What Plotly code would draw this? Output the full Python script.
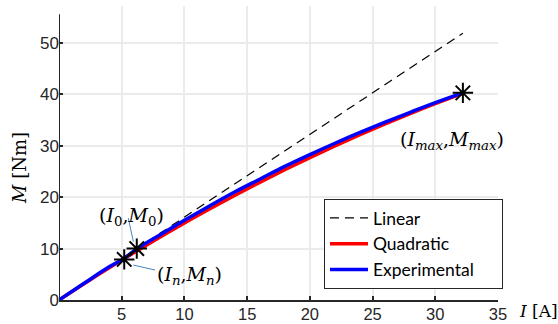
import plotly.graph_objects as go

# ---- data ----
I_exp = [0, 2, 4, 5.2, 6.2, 8, 10, 12, 14, 16, 18, 20, 22, 24, 26, 28, 30, 32.2]
M_exp = [0, 3.25, 6.45, 8.1, 9.95, 12.6, 15.5, 18.3, 21.0, 23.5, 26.0, 28.3, 30.5, 32.6, 34.6, 36.5, 38.4, 40.3]
I_quad = [0, 2, 4, 5.2, 6.2, 8, 10, 12, 14, 16, 18, 20, 22, 24, 26, 28, 30, 32.2]
M_quad = [0, 3.18, 6.26, 8.07, 9.55, 12.16, 14.98, 17.70, 20.34, 22.89, 25.34, 27.71, 29.99, 32.17, 34.27, 36.28, 38.2, 40.2]
I_lin = [0, 32.2]
M_lin = [0, 51.9]
I_pts = [5.2, 6.2, 32.2]
M_pts = [7.9, 10.0, 40.3]
x_ticks = [5, 10, 15, 20, 25, 30, 35]
y_ticks = [0, 10, 20, 30, 40, 50]
series_names = ["Linear", "Quadratic", "Experimental"]

AX = "#262626"
GRID = "#ebebeb"
MATH = "DejaVu Serif"
PAD = "\u00a0" * 5  # right padding inside the legend box

fig = go.Figure()
fig.add_trace(go.Scatter(x=I_lin, y=M_lin, mode="lines", name=series_names[0],
                         line=dict(color="black", width=1.2, dash="9px,6px")))
fig.add_trace(go.Scatter(x=I_quad, y=M_quad, mode="lines", name=series_names[1],
                         line=dict(color="#ff0000", width=3.5, shape="spline")))
fig.add_trace(go.Scatter(x=I_exp, y=M_exp, mode="lines", name=series_names[2] + PAD,
                         line=dict(color="#0000ff", width=3.5, shape="spline")))
fig.add_trace(go.Scatter(x=I_pts, y=M_pts, mode="markers", showlegend=False,
                         marker=dict(symbol="asterisk-open", size=17, color="black",
                                     line=dict(color="black", width=2))))

fig.update_layout(
    width=558, height=324,
    margin=dict(l=59, r=60, t=6, b=24, autoexpand=False),
    paper_bgcolor="white", plot_bgcolor="white",
    font=dict(family="Liberation Sans", size=16, color=AX),
    legend=dict(x=0.6036, y=0.3435, xanchor="left", yanchor="top",
                bgcolor="white", bordercolor=AX, borderwidth=1,
                font=dict(family="Lato", size=17.5, color="black"),
                tracegroupgap=0, itemwidth=38),
    xaxis=dict(range=[0, 35], tickvals=x_ticks, ticks="inside", ticklen=4,
               tickwidth=2, tickcolor=AX, showline=True, linecolor=AX,
               linewidth=2, showgrid=True, gridcolor=GRID, gridwidth=1.5,
               zeroline=False, tickfont=dict(size=16.5, color=AX),
               ticklabelstandoff=-2, automargin=False),
    yaxis=dict(range=[0, 57.2], tickvals=y_ticks, ticks="inside", ticklen=4,
               tickwidth=2, tickcolor=AX, showline=False,
               showgrid=True, gridcolor=GRID, gridwidth=1.5,
               zeroline=False, tickfont=dict(size=17, color=AX),
               ticklabelstandoff=-1, automargin=False),
    showlegend=True,
)

# y axis line (stops short of the grid top)
fig.add_shape(type="line", xref="x", yref="y", x0=0, x1=0, y0=0, y1=55.6,
              line=dict(color=AX, width=2))

# leader lines
fig.add_shape(type="line", xref="x", yref="y", x0=5.52, y0=15.94, x1=5.93, y1=11.34,
              line=dict(color="#4a86c8", width=1))
fig.add_shape(type="line", xref="x", yref="y", x0=5.93, y0=6.8, x1=7.66, y1=5.83,
              line=dict(color="#4a86c8", width=1))

# axis titles
fig.add_annotation(text="<i>M</i> [Nm]", xref="paper", yref="paper",
                   x=-0.0888, y=0.449, textangle=-90, showarrow=False,
                   xanchor="center", yanchor="middle",
                   font=dict(family=MATH, size=18, color="black"))
fig.add_annotation(text="<i>I</i> [A]", xref="paper", yref="paper",
                   x=1.0923, y=-0.0374, showarrow=False,
                   xanchor="center", yanchor="middle",
                   font=dict(family=MATH, size=17, color="black"))

# point labels
fig.add_annotation(text="(<i>I</i><sub>0</sub>,<i>M</i><sub>0</sub>)", x=5.78, y=16.33,
                   showarrow=False, xanchor="center", yanchor="middle",
                   font=dict(family=MATH, size=19, color="black"))
fig.add_annotation(text="(<i>I<sub>n</sub></i>,<i>M<sub>n</sub></i>)", x=10.37, y=4.86,
                   showarrow=False, xanchor="center", yanchor="middle",
                   font=dict(family=MATH, size=19, color="black"))
fig.add_annotation(text="(<i>I<sub>max</sub></i>,<i>M<sub>max</sub></i>)", x=31.34, y=31.1,
                   showarrow=False, xanchor="center", yanchor="middle",
                   font=dict(family=MATH, size=19, color="black"))

fig.write_html("out.html")
